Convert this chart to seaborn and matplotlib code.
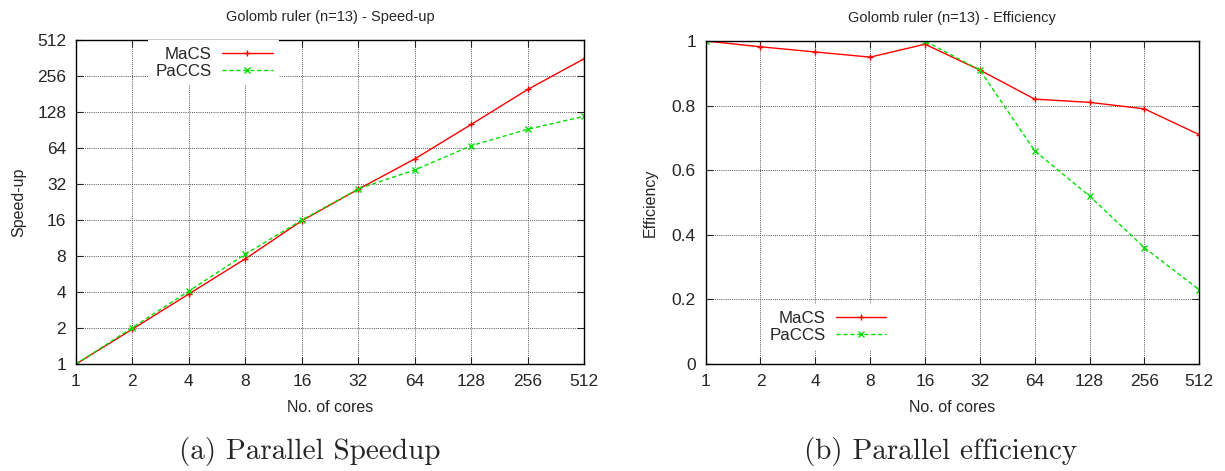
import numpy as np
import pandas as pd
import matplotlib
matplotlib.use("Agg")
import matplotlib.pyplot as plt
import seaborn as sns

cores = [1, 2, 4, 8, 16, 32, 64, 128, 256, 512]
macs_speedup = [1, 1.96, 3.86, 7.6, 15.8, 29, 52, 101, 198, 358]
paccs_speedup = [1, 2.02, 4.08, 8.3, 16, 29.2, 42, 67, 92, 118]
macs_eff = [1, 0.982, 0.966, 0.95, 0.99, 0.91, 0.82, 0.81, 0.79, 0.71]
paccs_eff = [1, 1.01, 1.02, 1.04, 1.0, 0.91, 0.66, 0.52, 0.36, 0.23]

speed_ticks = [1, 2, 4, 8, 16, 32, 64, 128, 256, 512]
eff_ticks = [0, 0.2, 0.4, 0.6, 0.8, 1]
eff_labels = ["0", "0.2", "0.4", "0.6", "0.8", "1"]

red = "#ff0000"
green = "#00e000"

sns.set_style("ticks")
plt.rcParams["font.family"] = ["Liberation Sans", "DejaVu Sans"]

fig = plt.figure(figsize=(12.25, 4.71), dpi=100)
ax1 = fig.add_axes([0.062, 0.227, 0.415, 0.688])
ax2 = fig.add_axes([0.576, 0.227, 0.403, 0.686])


def style_axis(ax):
    ax.set_xscale("log", base=2)
    ax.set_xlim(1, 512)
    ax.set_xticks(cores)
    ax.set_xticklabels([str(c) for c in cores])
    ax.minorticks_off()
    ax.grid(True, color="#555555", linestyle=(0, (1, 1.2)), linewidth=0.7)
    ax.tick_params(direction="in", length=5, top=True, right=True,
                   labelsize=12.5, width=0.8, pad=7)
    for s in ax.spines.values():
        s.set_linewidth(1.0)
        s.set_color("black")
    ax.set_xlabel("No. of cores", fontsize=11.5, labelpad=8)


def draw(ax, a, b):
    df = pd.DataFrame({"cores": cores, "MaCS": a, "PaCCS": b})
    sns.lineplot(data=df, x="cores", y="MaCS", ax=ax, color=red, marker="+",
                 markersize=5, markeredgewidth=1, markeredgecolor=red,
                 linewidth=1, label="MaCS")
    sns.lineplot(data=df, x="cores", y="PaCCS", ax=ax, color=green, marker="x",
                 markersize=4, markeredgewidth=1, markeredgecolor=green,
                 linewidth=1, linestyle=(0, (3, 2)), label="PaCCS")


def add_legend(ax, loc, anchor):
    ax.legend(loc=loc, bbox_to_anchor=anchor, borderaxespad=0,
              markerfirst=False, fontsize=12.2, handlelength=3.0,
              handletextpad=0.6, labelspacing=0.1, numpoints=1,
              frameon=True, fancybox=False, framealpha=1,
              edgecolor="none", facecolor="white")


# speed-up
draw(ax1, macs_speedup, paccs_speedup)
style_axis(ax1)
ax1.set_yscale("log", base=2)
ax1.set_ylim(1, 512)
ax1.set_yticks(speed_ticks)
ax1.set_yticklabels([str(t) for t in speed_ticks])
ax1.minorticks_off()
ax1.set_ylabel("Speed-up", fontsize=11.5, labelpad=8)
ax1.set_title("Golomb ruler (n=13) - Speed-up", fontsize=10.5, pad=14)
add_legend(ax1, "upper right", (0.40, 1.0))

# efficiency
draw(ax2, macs_eff, paccs_eff)
style_axis(ax2)
ax2.set_ylim(0, 1)
ax2.set_yticks(eff_ticks)
ax2.set_yticklabels(eff_labels)
ax2.set_ylabel("Efficiency", fontsize=11.5, labelpad=10)
ax2.set_title("Golomb ruler (n=13) - Efficiency", fontsize=10.5, pad=14)
add_legend(ax2, "lower right", (0.38, 0.045))

fig.text(0.253, 0.025, "(a) Parallel Speedup", fontsize=21,
         family=["cmr10", "DejaVu Serif"], ha="center")
fig.text(0.768, 0.025, "(b) Parallel efficiency", fontsize=21,
         family=["cmr10", "DejaVu Serif"], ha="center")

fig.savefig("out.png", dpi=100)
